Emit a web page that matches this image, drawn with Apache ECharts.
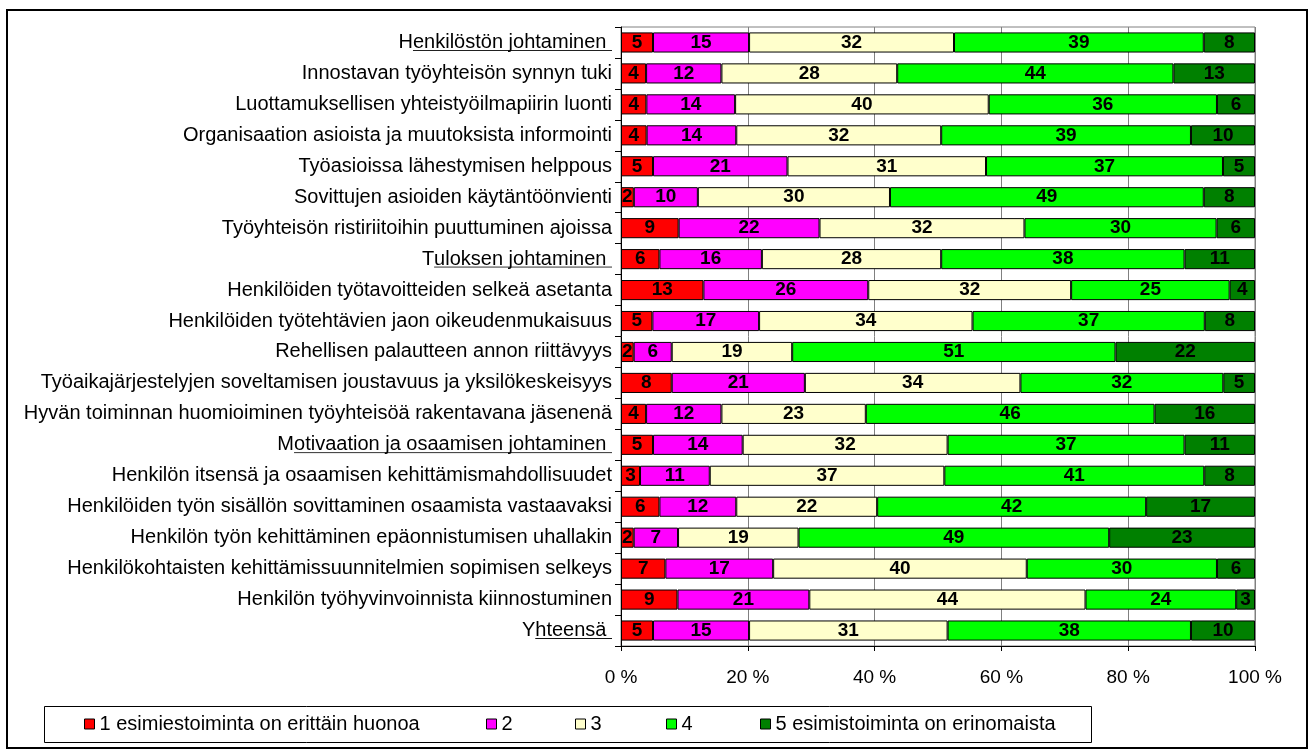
<!DOCTYPE html>
<html><head><meta charset="utf-8">
<script src="https://cdn.jsdelivr.net/npm/echarts@6/dist/echarts.min.js"></script>
<style>html,body{margin:0;padding:0;background:#fff}#c{width:1312px;height:753px}</style>
</head><body><div id="c"></div>
<script>
const categories = [
  'Henkilöstön johtaminen',
  'Innostavan työyhteisön synnyn tuki',
  'Luottamuksellisen yhteistyöilmapiirin luonti',
  'Organisaation asioista ja muutoksista informointi',
  'Työasioissa lähestymisen helppous',
  'Sovittujen asioiden käytäntöönvienti',
  'Työyhteisön ristiriitoihin puuttuminen ajoissa',
  'Tuloksen johtaminen',
  'Henkilöiden työtavoitteiden selkeä asetanta',
  'Henkilöiden työtehtävien jaon oikeudenmukaisuus',
  'Rehellisen palautteen annon riittävyys',
  'Työaikajärjestelyjen soveltamisen joustavuus ja yksilökeskeisyys',
  'Hyvän toiminnan huomioiminen työyhteisöä rakentavana jäsenenä',
  'Motivaation ja osaamisen johtaminen',
  'Henkilön itsensä ja osaamisen kehittämismahdollisuudet',
  'Henkilöiden työn sisällön sovittaminen osaamista vastaavaksi',
  'Henkilön työn kehittäminen epäonnistumisen uhallakin',
  'Henkilökohtaisten kehittämissuunnitelmien sopimisen selkeys',
  'Henkilön työhyvinvoinnista kiinnostuminen',
  'Yhteensä'
];
const headingRows = ['Henkilöstön johtaminen', 'Tuloksen johtaminen', 'Motivaation ja osaamisen johtaminen', 'Yhteensä'];
const seriesNames = ['1 esimiestoiminta on erittäin huonoa', '2', '3', '4', '5 esimistoiminta on erinomaista'];
const rating1 = [5, 4, 4, 4, 5, 2, 9, 6, 13, 5, 2, 8, 4, 5, 3, 6, 2, 7, 9, 5];
const rating2 = [15, 12, 14, 14, 21, 10, 22, 16, 26, 17, 6, 21, 12, 14, 11, 12, 7, 17, 21, 15];
const rating3 = [32, 28, 40, 32, 31, 30, 32, 28, 32, 34, 19, 34, 23, 32, 37, 22, 19, 40, 44, 31];
const rating4 = [39, 44, 36, 39, 37, 49, 30, 38, 25, 37, 51, 32, 46, 37, 41, 42, 49, 30, 24, 38];
const rating5 = [8, 13, 6, 10, 5, 8, 6, 11, 4, 8, 22, 5, 16, 11, 8, 17, 23, 6, 3, 10];
const seriesColors = ['#FF0000', '#FF00FF', '#FFFFCC', '#00FF00', '#008000'];

const allRatings = [rating1, rating2, rating3, rating4, rating5];
const totals = categories.map((c, i) => allRatings.reduce((s, a) => s + a[i], 0));

const LABEL_FS = 20;
const LINE_H = 24;
function makeUnderline(h, row) {
  const c = document.createElement('canvas');
  c.width = 4; c.height = h;
  const ctx = c.getContext('2d');
  ctx.fillStyle = '#000';
  ctx.fillRect(0, row, 4, 1);
  return c;
}
const uImg = makeUnderline(LINE_H, 21);

const chart = echarts.init(document.getElementById('c'), null, {renderer: 'canvas'});
const legendLeft = [84, 486, 575, 666, 760];

chart.setOption({
  animation: false,
  backgroundColor: '#fff',
  textStyle: {fontFamily: '"Liberation Sans", Arial, sans-serif'},
  grid: {left: 621, right: 57, top: 27, bottom: 107, show: true, borderColor: '#808080', borderWidth: 1, backgroundColor: 'transparent'},
  xAxis: {
    type: 'value', min: 0, max: 100, interval: 20,
    axisLine: {show: true, lineStyle: {color: '#000', width: 1}},
    axisTick: {show: true, length: 5, lineStyle: {color: '#000'}},
    splitLine: {show: true, lineStyle: {color: '#808080', width: 1}},
    axisLabel: {formatter: v => v + ' %', fontSize: 19, color: '#000', margin: 22}
  },
  yAxis: {
    type: 'category', inverse: true, data: categories,
    axisLine: {show: true, lineStyle: {color: '#000', width: 1}},
    axisTick: {show: true, length: 6, lineStyle: {color: '#000'}},
    axisLabel: {
      interval: 0, margin: 9, fontSize: LABEL_FS, color: '#000',
      formatter: function (v) {
        if (headingRows.indexOf(v) >= 0) {
          return '{p|' + v.charAt(0) + '}{u|' + v.slice(1) + ' }';
        }
        return v;
      },
      rich: {
        p: {fontSize: LABEL_FS, color: '#000', lineHeight: LINE_H},
        u: {fontSize: LABEL_FS, color: '#000', lineHeight: LINE_H, backgroundColor: {image: uImg}}
      }
    }
  },
  legend: seriesNames.map((n, i) => ({
    data: [n], left: legendLeft[i], top: 714, padding: 0, itemWidth: 10, itemHeight: 10,
    icon: 'rect', selectedMode: false,
    itemStyle: {borderColor: '#000', borderWidth: 1},
    textStyle: {fontSize: LABEL_FS, color: '#000'}
  })),
  graphic: [
    {type: 'rect', shape: {x: 7, y: 10, width: 1300, height: 738}, style: {fill: 'none', stroke: '#000', lineWidth: 2}, silent: true},
    {type: 'rect', shape: {x: 44.5, y: 706.5, width: 1047, height: 36}, style: {fill: 'none', stroke: '#000', lineWidth: 1}, silent: true}
  ],
  series: allRatings.map((arr, si) => ({
    name: seriesNames[si],
    type: 'bar',
    stack: 'total',
    barCategoryGap: '35%',
    data: arr.map((v, i) => v / totals[i] * 100),
    itemStyle: {color: seriesColors[si], borderColor: '#000', borderWidth: 1},
    label: {
      show: true, position: 'inside', color: '#000', fontWeight: 'bold', fontSize: 19,
      formatter: p => String(arr[p.dataIndex])
    }
  }))
});
</script></body></html>
